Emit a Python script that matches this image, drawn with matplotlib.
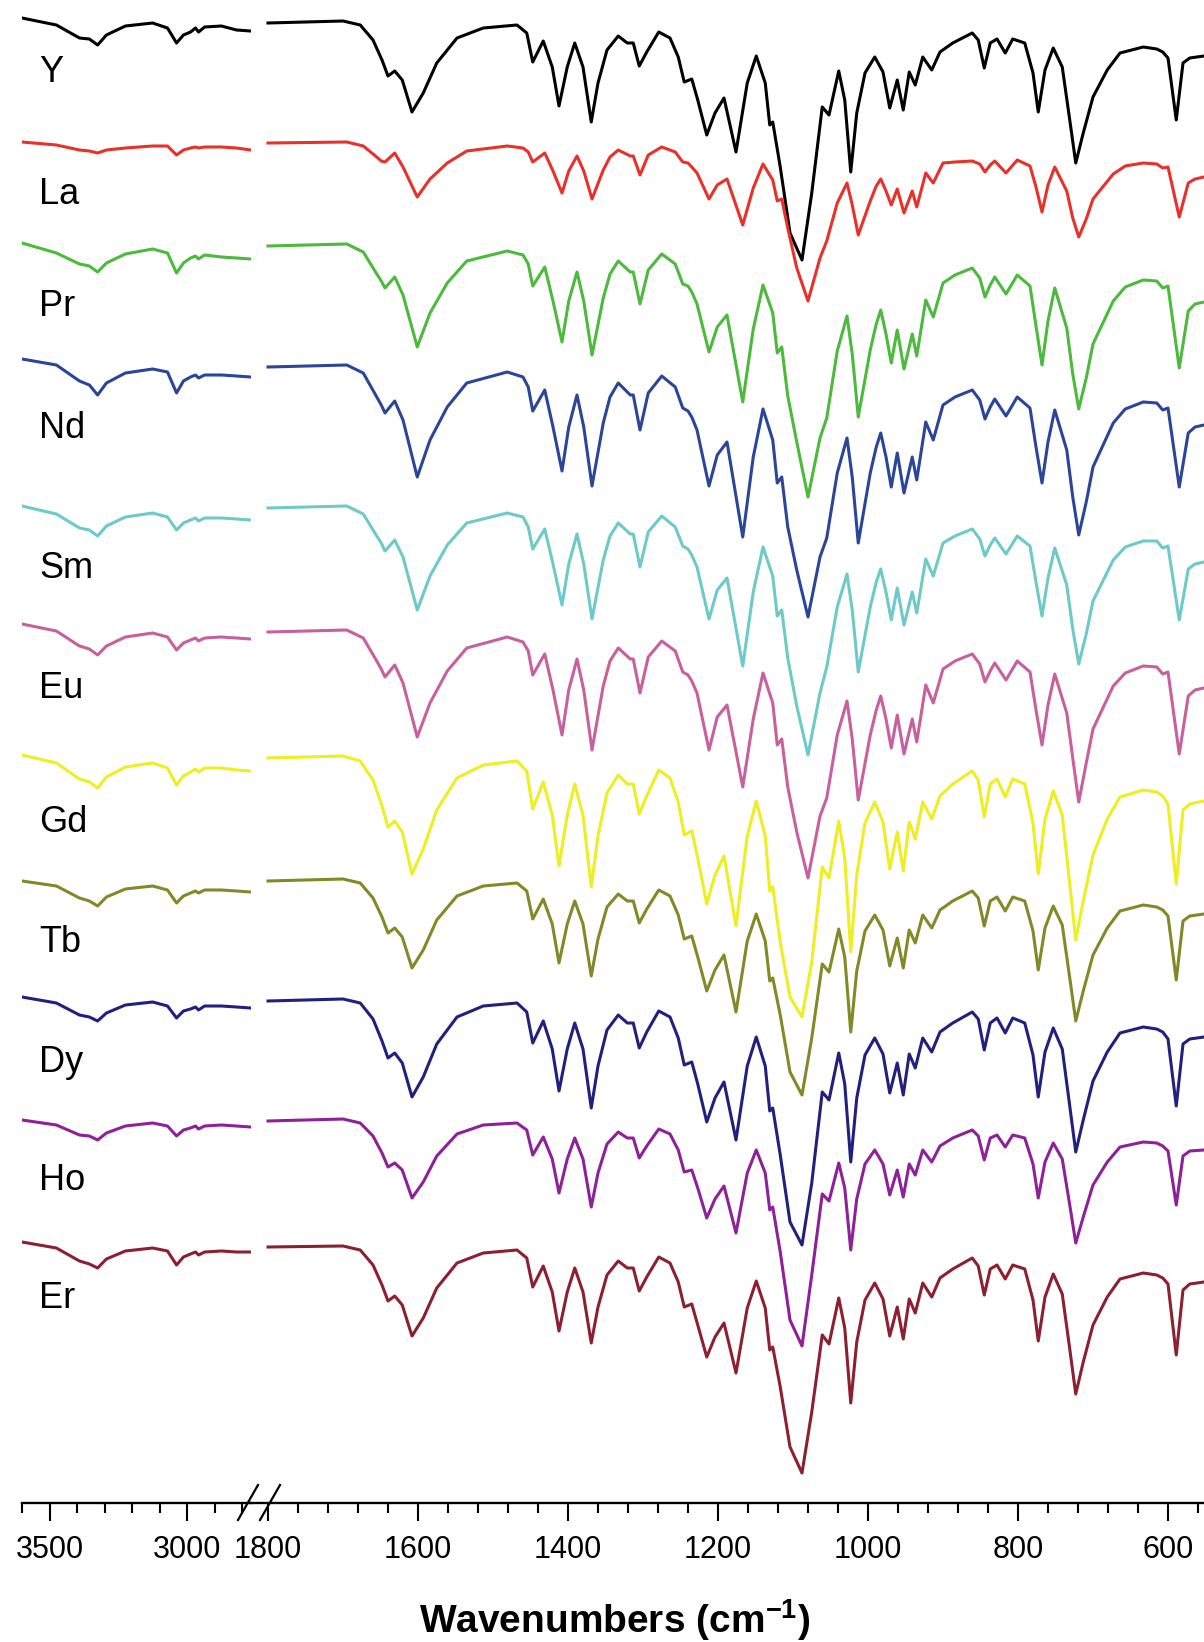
import matplotlib
matplotlib.use('Agg')
import matplotlib.pyplot as plt
import numpy as np
from matplotlib.lines import Line2D
from matplotlib.ticker import MultipleLocator

plt.rcParams['font.family'] = ['Liberation Sans', 'DejaVu Sans']
plt.rcParams['mathtext.fontset'] = 'custom'
plt.rcParams['mathtext.rm'] = 'Liberation Sans'
plt.rcParams['mathtext.bf'] = 'Liberation Sans:bold'

# wavenumbers (cm-1) of the points
wn_left = [3600, 3475, 3391, 3355, 3325, 3293, 3224, 3125, 3071, 3038,
           3013, 2987, 2969, 2958, 2936, 2875, 2820, 2769]

# Y, Gd..Er share one set of band positions, La..Eu are slightly shifted
wn_heavy = [1800, 1700, 1677, 1660, 1648, 1640, 1631, 1621, 1608, 1593,
            1575, 1548, 1513, 1468, 1455, 1447, 1433, 1421, 1412, 1401,
            1391, 1380, 1369, 1360, 1348, 1333, 1321, 1313, 1305, 1295,
            1279, 1264, 1253, 1245, 1235, 1227, 1215, 1204, 1192, 1176,
            1161, 1149, 1137, 1131, 1127, 1117, 1104, 1088, 1075, 1061,
            1052, 1039, 1031, 1023, 1015, 1004, 991, 980, 971, 961,
            953, 945, 937, 927, 915, 904, 887, 861, 853, 845,
            837, 828, 817, 807, 791, 780, 773, 764, 753, 741,
            731, 723, 713, 700, 681, 664, 633, 615, 607, 600,
            589, 580, 571, 552]
wn_light = [1800, 1695, 1673, 1655, 1649, 1644, 1631, 1620, 1601, 1584,
            1561, 1535, 1481, 1460, 1453, 1447, 1431, 1420, 1408, 1399,
            1388, 1379, 1368, 1353, 1344, 1333, 1317, 1313, 1304, 1293,
            1275, 1257, 1247, 1240, 1235, 1228, 1212, 1201, 1188, 1167,
            1153, 1140, 1127, 1121, 1115, 1107, 1095, 1080, 1064, 1055,
            1041, 1028, 1021, 1013, 997, 989, 983, 976, 969, 961,
            952, 941, 935, 923, 913, 900, 884, 861, 851, 844,
            837, 831, 816, 801, 784, 776, 768, 760, 751, 735,
            727, 719, 709, 700, 673, 657, 633, 615, 607, 600,
            585, 573, 564, 552]

# drop in transmittance below the 1800 cm-1 level (a.u.)
Y_left = [-4, 3, 16, 17, 23, 13, 4, 1, 6, 21, 13, 10, 6, 10, 5, 4, 8, 9]
La_left = [-1, 2, 7, 8, 10, 7, 5, 3, 3, 12, 7, 5, 4, 5, 4, 4, 5, 7]
Pr_left = [-3, 7, 18, 20, 26, 17, 8, 3, 7, 27, 17, 12, 10, 13, 9, 11, 12, 13]
Nd_left = [-8, -2, 14, 18, 28, 16, 6, 2, 5, 26, 14, 10, 8, 11, 8, 8, 9, 10]
Sm_left = [-2, 6, 20, 22, 28, 18, 9, 5, 9, 22, 15, 12, 10, 13, 10, 10, 11, 12]
Eu_left = [-8, -1, 14, 17, 23, 14, 5, 1, 5, 18, 11, 8, 6, 9, 6, 5, 6, 7]
Gd_left = [-2, 6, 22, 25, 31, 20, 10, 6, 11, 28, 19, 15, 12, 15, 11, 11, 13, 14]
Tb_left = [1, 6, 18, 21, 26, 17, 9, 6, 10, 23, 16, 13, 11, 13, 10, 10, 11, 12]
Dy_left = [-3, 3, 15, 17, 21, 13, 5, 2, 6, 18, 11, 9, 7, 10, 6, 6, 7, 8]
Ho_left = [0, 5, 15, 16, 20, 13, 6, 3, 6, 16, 10, 8, 6, 9, 6, 5, 6, 7]
Er_left = [-5, 1, 14, 17, 21, 12, 4, 1, 4, 18, 10, 7, 5, 8, 5, 4, 5, 5]

Y_right = [1, -1, 3, 18, 38, 54, 49, 58, 90, 71,
           41, 16, 6, 3, 11, 40, 19, 45, 84, 45,
           21, 45, 100, 61, 28, 14, 21, 21, 44, 30,
           10, 16, 35, 60, 57, 78, 113, 91, 76, 130,
           61, 34, 61, 103, 100, 145, 211, 238, 171, 85,
           93, 49, 78, 150, 91, 51, 35, 50, 86, 58,
           88, 50, 63, 35, 48, 30, 21, 11, 18, 46,
           21, 17, 31, 17, 21, 51, 90, 48, 26, 45,
           98, 141, 111, 75, 48, 31, 25, 27, 30, 36,
           98, 41, 36, 34]
La_right = [0, -1, 3, 14, 18, 19, 10, 24, 54, 36,
            20, 8, 3, 5, 9, 19, 10, 28, 50, 28,
            13, 28, 56, 27, 14, 7, 13, 13, 32, 12,
            4, 9, 19, 20, 24, 30, 56, 42, 36, 82,
            45, 21, 37, 58, 56, 85, 125, 158, 115, 98,
            60, 40, 62, 92, 58, 43, 36, 48, 62, 46,
            70, 48, 64, 30, 40, 20, 19, 18, 21, 29,
            22, 18, 30, 17, 23, 44, 69, 42, 24, 48,
            75, 94, 76, 56, 31, 23, 20, 21, 25, 24,
            74, 40, 36, 34]
Pr_right = [0, -2, 6, 28, 35, 42, 31, 49, 101, 67,
            37, 15, 5, 9, 18, 40, 21, 55, 96, 55,
            26, 55, 109, 52, 28, 15, 26, 26, 58, 24,
            8, 18, 38, 40, 46, 58, 106, 81, 69, 156,
            83, 39, 67, 107, 101, 150, 196, 251, 192, 172,
            105, 70, 108, 171, 104, 78, 64, 88, 117, 84,
            123, 88, 110, 54, 71, 37, 29, 22, 32, 51,
            39, 31, 48, 29, 40, 80, 119, 75, 42, 82,
            128, 163, 132, 98, 55, 41, 34, 35, 42, 40,
            122, 65, 58, 56]
Nd_right = [0, -2, 6, 30, 38, 46, 34, 53, 110, 73,
            40, 16, 5, 10, 20, 44, 23, 60, 104, 60,
            28, 60, 119, 56, 30, 16, 28, 28, 63, 26,
            9, 20, 41, 44, 50, 63, 119, 88, 75, 170,
            90, 42, 73, 116, 110, 160, 203, 250, 190, 171,
            106, 71, 110, 176, 106, 80, 66, 90, 120, 86,
            126, 90, 113, 55, 73, 38, 30, 23, 33, 52,
            40, 32, 49, 30, 41, 80, 116, 75, 43, 83,
            130, 168, 135, 100, 56, 42, 35, 36, 43, 41,
            120, 66, 60, 58]
Sm_right = [0, -2, 6, 28, 35, 43, 32, 49, 102, 68,
            37, 15, 5, 9, 19, 41, 21, 56, 97, 56,
            26, 56, 111, 52, 28, 15, 26, 26, 59, 24,
            8, 19, 38, 41, 47, 59, 111, 82, 70, 158,
            84, 39, 68, 108, 102, 150, 198, 247, 185, 159,
            99, 66, 102, 164, 99, 74, 61, 84, 112, 80,
            117, 84, 105, 51, 68, 35, 28, 21, 31, 48,
            37, 30, 46, 28, 38, 74, 108, 70, 40, 77,
            121, 156, 126, 93, 52, 39, 33, 33, 40, 38,
            112, 61, 56, 54]
Eu_right = [0, -2, 6, 29, 37, 45, 33, 51, 105, 71,
            39, 16, 5, 10, 19, 43, 22, 58, 103, 58,
            27, 58, 118, 54, 29, 16, 27, 27, 61, 25,
            9, 19, 40, 43, 49, 61, 118, 85, 73, 155,
            87, 41, 71, 113, 107, 155, 200, 246, 184, 166,
            103, 69, 107, 168, 103, 78, 64, 87, 116, 83,
            122, 87, 110, 53, 71, 37, 29, 22, 32, 50,
            39, 31, 48, 29, 40, 78, 113, 73, 42, 81,
            126, 170, 131, 97, 54, 41, 34, 35, 42, 40,
            122, 64, 58, 56]
Gd_right = [1, -1, 4, 23, 49, 70, 64, 75, 117, 92,
            53, 21, 8, 4, 14, 52, 25, 58, 109, 58,
            27, 58, 130, 79, 36, 18, 27, 27, 57, 39,
            13, 21, 45, 78, 74, 101, 147, 118, 99, 169,
            79, 44, 79, 134, 130, 185, 240, 260, 205, 110,
            121, 64, 101, 195, 118, 66, 45, 65, 112, 75,
            114, 65, 82, 45, 62, 39, 27, 14, 23, 60,
            27, 22, 40, 22, 27, 66, 117, 62, 34, 58,
            127, 183, 144, 98, 62, 40, 33, 35, 39, 47,
            127, 53, 47, 44]
Tb_right = [1, -1, 3, 18, 37, 53, 48, 57, 88, 70,
            40, 16, 6, 3, 11, 39, 19, 44, 83, 44,
            21, 44, 96, 59, 27, 14, 21, 21, 43, 29,
            10, 16, 35, 59, 56, 77, 111, 90, 75, 132,
            61, 34, 61, 101, 98, 135, 192, 215, 158, 84,
            92, 49, 77, 152, 91, 51, 35, 50, 86, 58,
            88, 50, 63, 35, 48, 30, 21, 11, 18, 46,
            21, 17, 31, 17, 21, 51, 90, 48, 26, 45,
            98, 141, 111, 75, 48, 31, 25, 27, 30, 36,
            100, 41, 36, 34]
Dy_right = [1, -1, 3, 19, 41, 58, 53, 63, 97, 77,
            44, 17, 6, 3, 12, 43, 21, 49, 91, 49,
            23, 49, 108, 66, 30, 15, 23, 23, 48, 32,
            11, 17, 38, 65, 62, 84, 122, 98, 82, 140,
            66, 37, 66, 111, 108, 155, 222, 245, 183, 92,
            100, 53, 84, 162, 98, 55, 38, 54, 93, 63,
            95, 54, 68, 38, 52, 32, 23, 12, 19, 50,
            23, 18, 33, 18, 23, 55, 97, 52, 28, 49,
            106, 152, 120, 81, 52, 33, 27, 29, 32, 39,
            106, 44, 39, 37]
Ho_right = [1, -1, 3, 16, 33, 47, 43, 50, 78, 62,
            36, 14, 5, 3, 10, 35, 17, 39, 73, 39,
            18, 39, 87, 53, 24, 12, 18, 18, 38, 26,
            9, 14, 30, 52, 50, 68, 98, 79, 66, 113,
            53, 30, 53, 90, 87, 132, 200, 226, 155, 74,
            81, 43, 68, 130, 79, 44, 30, 44, 75, 50,
            77, 44, 55, 30, 42, 26, 18, 10, 16, 40,
            18, 15, 27, 15, 18, 44, 78, 42, 23, 39,
            85, 123, 97, 65, 42, 27, 22, 23, 26, 31,
            85, 36, 31, 30]
Er_right = [0, -1, 3, 18, 38, 54, 49, 58, 89, 71,
            41, 16, 6, 3, 11, 40, 19, 45, 84, 45,
            21, 45, 96, 60, 28, 14, 21, 21, 44, 30,
            10, 16, 35, 60, 57, 78, 110, 90, 76, 126,
            61, 34, 61, 103, 100, 140, 200, 226, 165, 88,
            97, 51, 81, 156, 95, 53, 36, 52, 89, 60,
            92, 52, 66, 36, 50, 31, 22, 11, 19, 48,
            22, 18, 32, 18, 22, 53, 94, 50, 27, 47,
            102, 147, 115, 78, 50, 32, 26, 28, 31, 37,
            108, 43, 37, 35]

names = ['Y', 'La', 'Pr', 'Nd', 'Sm', 'Eu', 'Gd', 'Tb', 'Dy', 'Ho', 'Er']
lefts = [Y_left, La_left, Pr_left, Nd_left, Sm_left, Eu_left,
         Gd_left, Tb_left, Dy_left, Ho_left, Er_left]
rights = [Y_right, La_right, Pr_right, Nd_right, Sm_right, Eu_right,
          Gd_right, Tb_right, Dy_right, Ho_right, Er_right]
grids = [wn_heavy, wn_light, wn_light, wn_light, wn_light, wn_light,
         wn_heavy, wn_heavy, wn_heavy, wn_heavy, wn_heavy]
colors = ['#000000', '#e8312b', '#4cba3c', '#2b4598', '#6ec9c9', '#c8609e',
          '#eeee22', '#808a26', '#22207e', '#8e2198', '#8c2030']

# stacking: vertical offset of every trace and height of its name label
offsets = [1481, 1360, 1257, 1136, 995, 871, 746, 623, 503, 383, 256]
label_y = [1430, 1309, 1196, 1074, 935, 815, 681, 561, 440, 323, 205]

W, H = 1204, 1642
fig = plt.figure(figsize=(W / 100, H / 100), dpi=100)
ax_l = fig.add_axes([22 / W, (H - 1503) / H, 229 / W, 1503 / H])
ax_r = fig.add_axes([251 / W, (H - 1503) / H, 953 / W, 1503 / H])

for i in range(len(names)):
    ax_l.plot(wn_left, offsets[i] - np.array(lefts[i]), color=colors[i],
              lw=2.2, solid_joinstyle='round')
    ax_r.plot(grids[i], offsets[i] - np.array(rights[i]), color=colors[i],
              lw=2.2, solid_joinstyle='round')
    ax_l.text(0.075, label_y[i], names[i], transform=ax_l.get_yaxis_transform(),
              fontsize=26, va='center', ha='left')

ax_l.set_xlim(3600, 3600 - 229 / 0.275)
ax_r.set_xlim(1800 + 17 / 0.75, 552)
ax_l.set_xticks([3500, 3000])
ax_l.xaxis.set_minor_locator(MultipleLocator(100))
ax_r.set_xticks(range(1800, 599, -200))
ax_r.xaxis.set_minor_locator(MultipleLocator(40))

for ax in (ax_l, ax_r):
    ax.set_ylim(0, 1503)
    ax.patch.set_visible(False)
    ax.yaxis.set_visible(False)
    for s in ('top', 'left', 'right'):
        ax.spines[s].set_visible(False)
    ax.spines['bottom'].set_linewidth(1.7)
    ax.tick_params(axis='x', which='major', direction='out', length=13,
                   width=1.5, labelsize=22, pad=10)
    ax.tick_params(axis='x', which='minor', direction='out', length=7,
                   width=1.5)

# axis break marks
for dx in (0, 22):
    fig.add_artist(Line2D([(238 + dx) / W, (258 + dx) / W],
                          [(H - 1520) / H, (H - 1485) / H], color='k', lw=1.6))

fig.text(615 / W, (H - 1633) / H, r'Wavenumbers (cm$^{\mathbf{-1}}$)',
         ha='center', va='baseline', fontsize=28, fontweight='bold')

fig.savefig('out.png', dpi=100)
